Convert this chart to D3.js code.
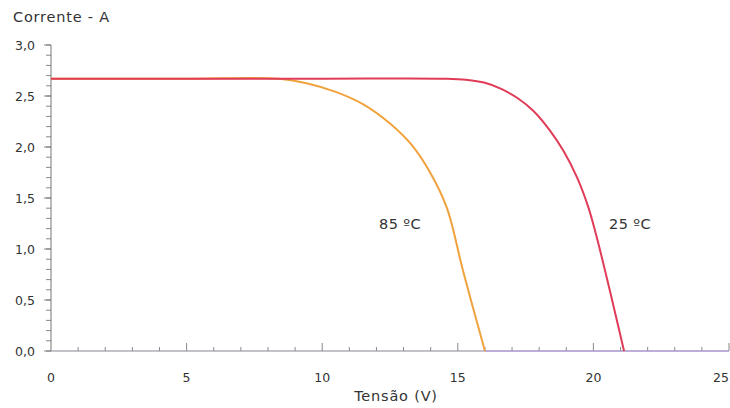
<!DOCTYPE html>
<html>
<head>
<meta charset="utf-8" />
<script src="https://d3js.org/d3.v7.min.js"></script>
<style>
  body { margin: 0; background: #fff; }
  text { font-family: "DejaVu Sans", "Open Sans", sans-serif; fill: #333; }
</style>
</head>
<body>
<svg id="chart" width="730" height="408"></svg>
<script>
// curve at 25 ºC (tensão V, corrente A)
const v25 = [0, 5, 10, 14.5, 15.3, 16.0, 16.6, 17.2, 17.8, 18.4, 18.9, 19.4, 19.8, 20.1, 20.6, 21.13];
const i25 = [2.67, 2.67, 2.67, 2.67, 2.66, 2.63, 2.57, 2.48, 2.35, 2.16, 1.96, 1.70, 1.42, 1.14, 0.60, 0];
// curve at 85 ºC
const v85 = [0, 5, 8.4, 9.5, 10.5, 11.5, 12.5, 13.3, 14.0, 14.6, 15.2, 16.0];
const i85 = [2.67, 2.67, 2.67, 2.62, 2.54, 2.42, 2.23, 2.02, 1.74, 1.40, 0.78, 0];

const xTicks = [0, 5, 10, 15, 20, 25];
const yTicks = [0, 0.5, 1, 1.5, 2, 2.5, 3];
const curveLabels = ["85 ºC", "25 ºC"];

const svg = d3.select("#chart");
const x = d3.scaleLinear().domain([0, 25]).range([51, 729]);
const y = d3.scaleLinear().domain([0, 3]).range([351, 45]);
const fmt = d => d3.format(".1f")(d).replace(".", ",");

// minor ticks
svg.append("g").selectAll("line").data(d3.range(0, 3.01, 0.1))
  .join("line")
  .attr("x1", 51).attr("x2", 46)
  .attr("y1", d => y(d)).attr("y2", d => y(d))
  .attr("stroke", "#6b6b6b").attr("stroke-width", 0.8);
svg.append("g").selectAll("line").data(d3.range(1, 26, 1))
  .join("line")
  .attr("x1", d => x(d)).attr("x2", d => x(d))
  .attr("y1", 351).attr("y2", d => d % 5 === 0 ? 343 : 347)
  .attr("stroke", "#6b6b6b").attr("stroke-width", 0.8);
// major y ticks
svg.append("g").selectAll("line").data(yTicks)
  .join("line")
  .attr("x1", 51).attr("x2", 44)
  .attr("y1", d => y(d)).attr("y2", d => y(d))
  .attr("stroke", "#6b6b6b").attr("stroke-width", 0.8);

// axes lines
svg.append("line").attr("x1", 51).attr("x2", 51).attr("y1", 45).attr("y2", 351)
  .attr("stroke", "#777").attr("stroke-width", 1);
svg.append("line").attr("x1", 51).attr("x2", 729).attr("y1", 351).attr("y2", 351)
  .attr("stroke", "#8a8494").attr("stroke-width", 1.2);
svg.append("line").attr("x1", x(16)).attr("x2", 729).attr("y1", 351).attr("y2", 351)
  .attr("stroke", "#b89ae0").attr("stroke-width", 1.2);

// tick labels
svg.append("g").selectAll("text").data(yTicks)
  .join("text")
  .attr("x", 35).attr("y", d => y(d) + 4.5)
  .attr("text-anchor", "end").attr("font-size", 12.5)
  .text(fmt);
svg.append("g").selectAll("text").data(xTicks)
  .join("text")
  .attr("x", d => d === 25 ? 729 : x(d)).attr("y", 382)
  .attr("text-anchor", d => d === 25 ? "end" : "middle").attr("font-size", 12.5)
  .text(d => d);

// axis titles
svg.append("text").attr("x", 13).attr("y", 22).attr("font-size", 14.5)
  .attr("letter-spacing", 0.8).text("Corrente - A");
svg.append("text").attr("x", 396).attr("y", 401).attr("text-anchor", "middle")
  .attr("font-size", 14.5).attr("letter-spacing", 0.8).text("Tensão (V)");

// curves
const line = d3.line().x(d => x(d[0])).y(d => y(d[1])).curve(d3.curveCatmullRom.alpha(0.5));
svg.append("path").datum(d3.zip(v85, i85)).attr("d", line)
  .attr("fill", "none").attr("stroke", "#f0a23c").attr("stroke-width", 2);
svg.append("path").datum(d3.zip(v25, i25)).attr("d", line)
  .attr("fill", "none").attr("stroke", "#e03c58").attr("stroke-width", 2);

// curve labels
svg.append("text").attr("x", 379).attr("y", 229).attr("font-size", 14.5)
  .attr("letter-spacing", 0.4).text(curveLabels[0]);
svg.append("text").attr("x", 609).attr("y", 229).attr("font-size", 14.5)
  .attr("letter-spacing", 0.4).text(curveLabels[1]);
</script>
</body>
</html>
